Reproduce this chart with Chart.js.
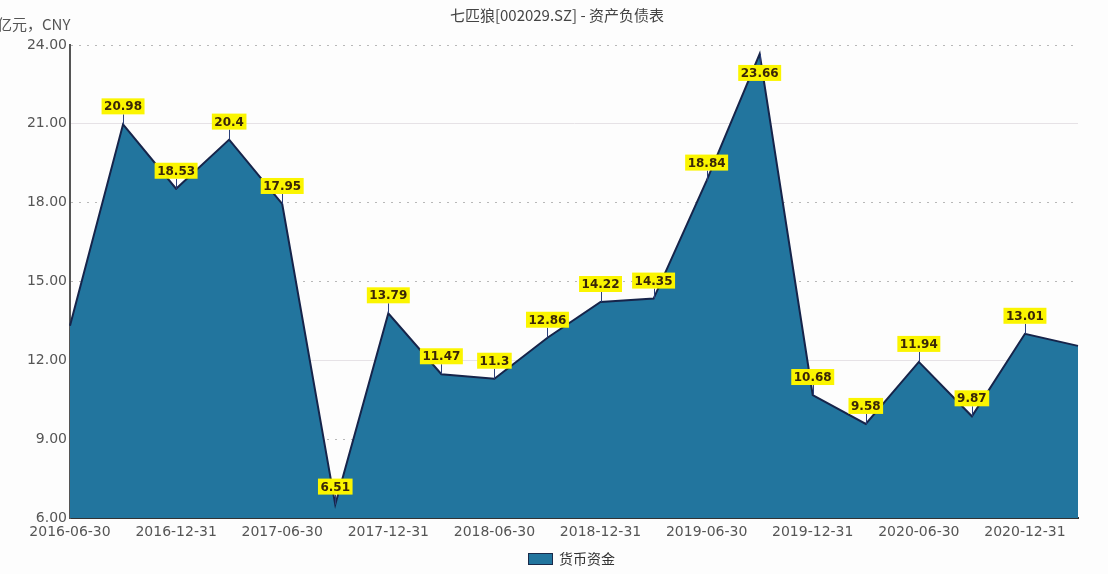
<!DOCTYPE html>
<html>
<head>
<meta charset="utf-8">
<script src="https://cdn.jsdelivr.net/npm/chart.js@4.4.1/dist/chart.umd.min.js"></script>
<style>
  html, body { margin: 0; padding: 0; background: #fdfdfd; }
  #wrap { width: 1108px; height: 574px; }
</style>
</head>
<body>
<div id="wrap"><canvas id="cashChart" width="1108" height="574"></canvas></div>
<script>
// quarterly report dates
const quarters = [
  '2016-06-30', '2016-09-30', '2016-12-31', '2017-03-31', '2017-06-30',
  '2017-09-30', '2017-12-31', '2018-03-31', '2018-06-30', '2018-09-30',
  '2018-12-31', '2019-03-31', '2019-06-30', '2019-09-30', '2019-12-31',
  '2020-03-31', '2020-06-30', '2020-09-30', '2020-12-31', '2021-03-31'
];

// 货币资金, 亿元
const cash = [
  13.32, 20.98, 18.53, 20.4, 17.95,
  6.51, 13.79, 11.47, 11.3, 12.86,
  14.22, 14.35, 18.84, 23.66, 10.68,
  9.58, 11.94, 9.87, 13.01, 12.55
];

// callout texts (first and last point have none)
const valueLabels = [
  null, '20.98', '18.53', '20.4', '17.95',
  '6.51', '13.79', '11.47', '11.3', '12.86',
  '14.22', '14.35', '18.84', '23.66', '10.68',
  '9.58', '11.94', '9.87', '13.01', null
];

const yTicks = [6, 9, 12, 15, 18, 21, 24];

const numFont = 'DejaVu Sans';
const cjkFont = '"Noto Sans CJK SC", "Noto Sans", sans-serif';

// title, unit and legend drawn by hand
const decorations = {
  id: 'decorations',
  afterDraw(chart) {
    const ctx = chart.ctx;
    ctx.save();
    ctx.fillStyle = '#444';
    ctx.font = '15px ' + cjkFont;
    ctx.textBaseline = 'middle';
    ctx.textAlign = 'center';
    ctx.fillText('七匹狼[002029.SZ] - 资产负债表', 557, 15);
    ctx.textAlign = 'left';
    ctx.fillStyle = '#555';
    ctx.fillText('亿元，CNY', -3, 24);

    // legend
    ctx.fillStyle = '#22759e';
    ctx.fillRect(528, 553, 25, 12);
    ctx.strokeStyle = '#1a2a4a';
    ctx.lineWidth = 1;
    ctx.strokeRect(528.5, 553.5, 24, 11);
    ctx.fillStyle = '#333';
    ctx.font = '14px ' + cjkFont;
    ctx.fillText('货币资金', 559, 559);
    ctx.restore();
  }
};

// yellow value callouts
const callouts = {
  id: 'callouts',
  afterDatasetsDraw(chart) {
    const ctx = chart.ctx;
    const meta = chart.getDatasetMeta(0);
    const top = chart.chartArea.top;
    ctx.save();
    ctx.font = 'bold 12px ' + numFont;
    ctx.textAlign = 'center';
    ctx.textBaseline = 'middle';
    valueLabels.forEach((txt, i) => {
      if (!txt) return;
      const pt = meta.data[i];
      const w = ctx.measureText(txt).width + 5;
      const h = 16;
      let cy = pt.y - 18;
      let below = false;
      if (cy - h / 2 < top) {
        cy = pt.y + 19;
        below = true;
      }
      ctx.strokeStyle = '#2a3f7a';
      ctx.lineWidth = 1;
      ctx.beginPath();
      ctx.moveTo(Math.round(pt.x) + 0.5, pt.y);
      ctx.lineTo(Math.round(pt.x) + 0.5, below ? cy - h / 2 : cy + h / 2);
      ctx.stroke();
      ctx.fillStyle = '#fbf500';
      ctx.fillRect(pt.x - w / 2, cy - h / 2, w, h);
      ctx.fillStyle = '#3a2608';
      ctx.fillText(txt, pt.x, cy + 1);
    });
    ctx.restore();
  }
};

new Chart(document.getElementById('cashChart'), {
  type: 'line',
  data: {
    labels: quarters,
    datasets: [{
      label: '货币资金',
      data: cash,
      fill: 'start',
      backgroundColor: '#22759e',
      borderColor: '#16244a',
      borderWidth: 2,
      borderJoinStyle: 'miter',
      tension: 0,
      pointRadius: 0,
      pointHoverRadius: 0
    }]
  },
  options: {
    responsive: false,
    animation: false,
    events: [],
    layout: { padding: { top: 45, right: 30, left: 0, bottom: 0 } },
    plugins: {
      legend: { display: false },
      title: { display: false },
      tooltip: { enabled: false }
    },
    scales: {
      x: {
        offset: false,
        afterFit(scale) { scale.height = 56; },
        grid: { display: false, drawTicks: false },
        border: { display: true, color: '#333', width: 2 },
        ticks: {
          autoSkip: false,
          maxRotation: 0,
          padding: 6,
          color: '#555',
          font: { family: numFont, size: 14 },
          callback(value, index) {
            return index % 2 === 0 ? quarters[index] : '';
          }
        }
      },
      y: {
        min: yTicks[0],
        max: yTicks[yTicks.length - 1],
        afterFit(scale) { scale.width = 70; },
        afterBuildTicks(scale) {
          scale.ticks = yTicks.map(v => ({ value: v }));
        },
        grid: {
          drawTicks: false,
          color(ctx) {
            const v = ctx.tick && ctx.tick.value;
            return (v === 21 || v === 12) ? '#e6e2e6' : '#b8b8b8';
          }
        },
        border: {
          display: true,
          color: '#555',
          width: 2,
          dash(ctx) {
            const v = ctx.tick && ctx.tick.value;
            return (v === 21 || v === 12) ? [] : [2, 6];
          }
        },
        ticks: {
          padding: 3,
          color: '#555',
          font: { family: numFont, size: 14 },
          callback(value) { return Number(value).toFixed(2); }
        }
      }
    }
  },
  plugins: [callouts, decorations]
});
</script>
</body>
</html>
